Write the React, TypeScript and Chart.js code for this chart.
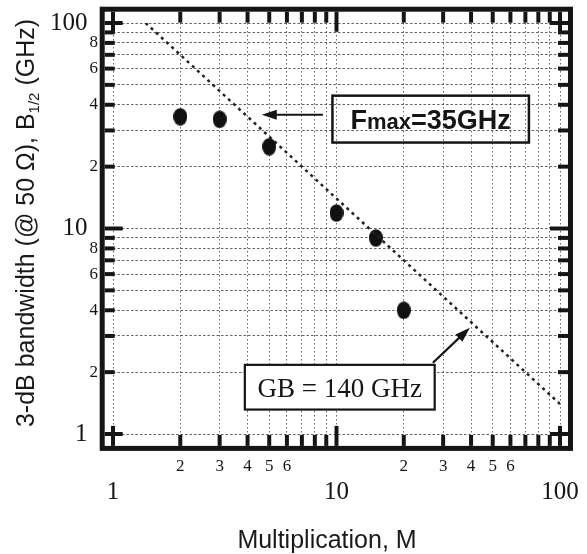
import React, { useEffect, useRef } from 'react';
import { Chart, registerables } from 'chart.js';

Chart.register(...registerables);

// ---- data ----
const multiplication = [2, 3, 5, 10, 15, 20];
const bandwidth = [35, 34, 25, 11.9, 9, 4];
const gbLineM = [1.4, 100];
const gbLineB = [100, 1.4];

// ---- ticks ----
const tickValues = [1, 2, 3, 4, 5, 6, 7, 8, 9, 10, 20, 30, 40, 50, 60, 70, 80, 90, 100];
const majorTicks = [1, 10, 100];
const xTickLabels = ['1', '2', '3', '4', '5', '6', '', '', '', '10', '2', '3', '4', '5', '6', '', '', '', '100'];
const yTickLabels = ['1', '2', '', '4', '', '6', '', '8', '', '10', '2', '', '4', '', '6', '', '8', '', '100'];

// ---- texts ----
const xTitle = 'Multiplication, M';
const yTitleMain = '3-dB bandwidth (@ 50 Ω), B';
const yTitleSub = '1/2';
const yTitleEnd = ' (GHz)';
const fmaxParts = ['F', 'max', '=35GHz'];
const gbLabel = 'GB = 140 GHz';

const SERIF = '"Liberation Serif", "DejaVu Serif", serif';
const SANS = '"Liberation Sans", Arial, sans-serif';
const INK = '#151515';
const GRID = 'rgba(50,50,50,0.75)';

const decorPlugin = {
  id: 'decor',
  afterDraw(chart: any) {
    const ctx: CanvasRenderingContext2D = chart.ctx;
    const { left, right, top, bottom } = chart.chartArea;
    const xs = chart.scales.x;
    const ys = chart.scales.y;
    const px = (v: number) => xs.getPixelForValue(v);
    const py = (v: number) => ys.getPixelForValue(v);

    ctx.save();
    // frame
    const fL = left - 10.8;
    const fR = right + 10.5;
    const fT = top - 13.8;
    const fB = bottom + 14.4;
    ctx.strokeStyle = INK;
    ctx.lineWidth = 5;
    ctx.setLineDash([]);
    ctx.strokeRect(fL, fT, fR - fL, fB - fT);

    const inL = fL + 2.5;
    const inR = fR - 2.5;
    const inT = fT + 2.5;
    const inB = fB - 2.5;
    const seg = (x1: number, y1: number, x2: number, y2: number) => {
      ctx.beginPath();
      ctx.moveTo(x1, y1);
      ctx.lineTo(x2, y2);
      ctx.stroke();
    };
    ctx.lineWidth = 4;
    ctx.lineCap = 'butt';
    xs.ticks.forEach((t: any) => {
      const x = px(t.value);
      const len = majorTicks.includes(t.value) ? 20 : 11;
      seg(x, inT, x, inT + len);
      seg(x, inB, x, inB - len);
    });
    ys.ticks.forEach((t: any) => {
      const y = py(t.value);
      const len = majorTicks.includes(t.value) ? 18 : 10;
      seg(inL, y, inL + len, y);
      seg(inR, y, inR - len, y);
    });

    // Fmax annotation
    const fbx1 = px(9.59), fbx2 = px(72.6), fby1 = py(44.3), fby2 = py(26.2);
    ctx.lineWidth = 2.5;
    ctx.strokeRect(fbx1, fby1, fbx2 - fbx1, fby2 - fby1);
    ctx.fillStyle = INK;
    ctx.textBaseline = 'alphabetic';
    ctx.textAlign = 'left';
    const fonts = [`bold 27px ${SANS}`, `bold 22px ${SANS}`, `bold 27px ${SANS}`];
    const widths = fmaxParts.map((p, i) => {
      ctx.font = fonts[i];
      return ctx.measureText(p).width;
    });
    let tx = (fbx1 + fbx2) / 2 - widths.reduce((a, b) => a + b, 0) / 2;
    const fBase = (fby1 + fby2) / 2 + 10;
    fmaxParts.forEach((p, i) => {
      ctx.font = fonts[i];
      ctx.fillText(p, tx, fBase);
      tx += widths[i];
    });
    // Fmax arrow
    const ay = py(35.8);
    const aTip = px(4.63);
    const aStart = px(8.69);
    ctx.lineWidth = 2;
    seg(aStart, ay, aTip + 10, ay);
    ctx.beginPath();
    ctx.moveTo(aTip, ay);
    ctx.lineTo(aTip + 15, ay - 5);
    ctx.lineTo(aTip + 15, ay + 5);
    ctx.closePath();
    ctx.fill();

    // GB annotation
    const gbx1 = px(3.89), gbx2 = px(27.5), gby1 = py(2.17), gby2 = py(1.315);
    ctx.fillStyle = '#ffffff';
    ctx.fillRect(gbx1, gby1, gbx2 - gbx1, gby2 - gby1);
    ctx.strokeStyle = INK;
    ctx.lineWidth = 2.2;
    ctx.strokeRect(gbx1, gby1, gbx2 - gbx1, gby2 - gby1);
    ctx.fillStyle = INK;
    ctx.font = `27px ${SERIF}`;
    ctx.textAlign = 'center';
    ctx.fillText(gbLabel, (gbx1 + gbx2) / 2, (gby1 + gby2) / 2 + 9.5);
    // GB arrow
    const sx = px(27.0), sy = py(2.22), ex = px(39.5), ey = py(3.29);
    const ang = Math.atan2(ey - sy, ex - sx);
    ctx.lineWidth = 2.2;
    seg(sx, sy, ex - 10 * Math.cos(ang), ey - 10 * Math.sin(ang));
    ctx.beginPath();
    ctx.moveTo(ex, ey);
    ctx.lineTo(ex - 15 * Math.cos(ang) + 5 * Math.sin(ang), ey - 15 * Math.sin(ang) - 5 * Math.cos(ang));
    ctx.lineTo(ex - 15 * Math.cos(ang) - 5 * Math.sin(ang), ey - 15 * Math.sin(ang) + 5 * Math.cos(ang));
    ctx.closePath();
    ctx.fill();

    // x title
    ctx.font = `25px ${SANS}`;
    ctx.textAlign = 'center';
    ctx.fillStyle = '#1a1a1a';
    ctx.fillText(xTitle, 327, 548);

    // y title (rotated, with subscript)
    ctx.save();
    ctx.translate(34, 223);
    ctx.rotate(-Math.PI / 2);
    ctx.textAlign = 'left';
    ctx.font = `25px ${SANS}`;
    const w1 = ctx.measureText(yTitleMain).width;
    const w3 = ctx.measureText(yTitleEnd).width;
    ctx.font = `15px ${SANS}`;
    const w2 = ctx.measureText(yTitleSub).width;
    const x0 = -(w1 + w2 + w3) / 2;
    ctx.font = `25px ${SANS}`;
    ctx.fillText(yTitleMain, x0, 0);
    ctx.font = `15px ${SANS}`;
    ctx.fillText(yTitleSub, x0 + w1, 5);
    ctx.font = `25px ${SANS}`;
    ctx.fillText(yTitleEnd, x0 + w1 + w2, 0);
    ctx.restore();

    ctx.restore();
  },
};

function makeDot(): HTMLCanvasElement {
  const c = document.createElement('canvas');
  c.width = 14;
  c.height = 18;
  const g = c.getContext('2d')!;
  g.fillStyle = '#111';
  g.beginPath();
  g.ellipse(7, 9, 7, 8.8, 0, 0, Math.PI * 2);
  g.fill();
  return c;
}

export default function App() {
  const ref = useRef<HTMLCanvasElement | null>(null);

  useEffect(() => {
    if (!ref.current) return;
    const dot = makeDot();
    const tickFont = (c: any) => {
      const v = c && c.tick ? c.tick.value : undefined;
      return majorTicks.includes(v)
        ? { family: SERIF, size: 25, lineHeight: 2.88 }
        : { family: SERIF, size: 17, lineHeight: 1.2 };
    };
    const yTickFont = (c: any) => {
      const v = c && c.tick ? c.tick.value : undefined;
      return majorTicks.includes(v)
        ? { family: SERIF, size: 25, lineHeight: 1.2 }
        : { family: SERIF, size: 17, lineHeight: 1.2 };
    };
    const chart = new Chart(ref.current, {
      type: 'scatter',
      data: {
        datasets: [
          {
            label: 'GB',
            data: gbLineM.map((m, i) => ({ x: m, y: gbLineB[i] })),
            showLine: true,
            borderColor: '#222',
            borderWidth: 2.5,
            borderDash: [3, 4],
            pointRadius: 0,
            fill: false,
          },
          {
            label: 'B1/2',
            data: multiplication.map((m, i) => ({ x: m, y: bandwidth[i] })),
            pointStyle: dot as any,
            pointRadius: 8,
            backgroundColor: '#111',
            borderColor: '#111',
          },
        ],
      },
      options: {
        responsive: false,
        animation: false,
        devicePixelRatio: 1,
        layout: { padding: { top: 23, right: 27, left: 0, bottom: 0 } },
        plugins: { legend: { display: false }, tooltip: { enabled: false } },
        scales: {
          x: {
            type: 'logarithmic',
            position: 'bottom',
            min: 1,
            max: 100,
            afterBuildTicks: (s: any) => {
              s.ticks = tickValues.map((v) => ({ value: v }));
            },
            afterFit: (s: any) => {
              s.height = 120;
              s.paddingLeft = 0;
              s.paddingRight = 0;
              s.paddingTop = 0;
              s.paddingBottom = 0;
            },
            grid: { drawTicks: false, color: GRID, lineWidth: 1 },
            border: { display: false, dash: [1.5, 2.5] },
            ticks: {
              autoSkip: false,
              maxRotation: 0,
              minRotation: 0,
              padding: 22,
              color: INK,
              callback: (_v: any, i: number) => xTickLabels[i],
              font: tickFont as any,
            },
          },
          y: {
            type: 'logarithmic',
            position: 'left',
            min: 1,
            max: 100,
            afterBuildTicks: (s: any) => {
              s.ticks = tickValues.map((v) => ({ value: v }));
            },
            afterFit: (s: any) => {
              s.width = 113;
              s.paddingLeft = 0;
              s.paddingRight = 0;
              s.paddingTop = 0;
              s.paddingBottom = 0;
            },
            grid: { drawTicks: false, color: GRID, lineWidth: 1 },
            border: { display: false, dash: [2.5, 2] },
            ticks: {
              autoSkip: false,
              padding: 15,
              color: INK,
              callback: (_v: any, i: number) =>
                majorTicks.includes(tickValues[i]) ? yTickLabels[i] + '\u2004\u200A' : yTickLabels[i],
              font: yTickFont as any,
            },
          },
        },
      },
      plugins: [decorPlugin],
    });
    return () => chart.destroy();
  }, []);

  return (
    <div style={{ position: 'fixed', left: 0, top: 0, width: 587, height: 554, background: '#fff' }}>
      <canvas ref={ref} width={587} height={554} style={{ display: 'block' }} />
    </div>
  );
}
